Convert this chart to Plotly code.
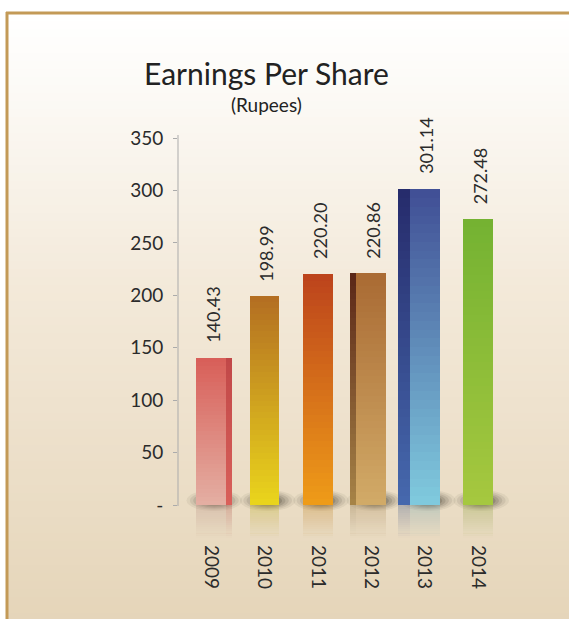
import plotly.graph_objects as go

# ---------------- data ----------------
years = ["2009", "2010", "2011", "2012", "2013", "2014"]
eps = [140.43, 198.99, 220.20, 220.86, 301.14, 272.48]
eps_labels = ["140.43", "198.99", "220.20", "220.86", "301.14", "272.48"]
y_tickvals = [0, 50, 100, 150, 200, 250, 300, 350]
y_ticktext = ["-", "50", "100", "150", "200", "250", "300", "350"]

# ---------------- style ----------------
W, H = 569, 619
PL, PR, PT = 178, 510, 138      # plot area in pixels
Y0PX = 505                      # pixel row of value 0
PB = 541                        # plot bottom (room for reflections)
KPX = (Y0PX - PT) / 350.0       # pixels per unit
YMIN = -(PB - Y0PX) / KPX
FONT = "Lato"
TXT = "#2b2b2b"

front_top = ["#D85E58", "#B36E22", "#BC431C", "#A96A33", "#404E95", "#74B232"]
front_bot = ["#E4AFA3", "#EAD51C", "#EF9C18", "#D2AB68", "#80CBDE", "#A6C83F"]
side_top = ["#C14848", None, None, "#5A2617", "#262B6B", None]
side_bot = ["#D9605A", None, None, "#A78447", "#4669AE", None]
side_off = [0.28, 0, 0, -0.39, -0.50, 0]
side_w = [0.11, 0, 0, 0.11, 0.22, 0]
FRONT_W = 0.56
N = 36


def hex2rgb(h):
    h = h.lstrip("#")
    return tuple(int(h[i:i + 2], 16) for i in (0, 2, 4))


def mix(c1, c2, t):
    a, b = hex2rgb(c1), hex2rgb(c2)
    return tuple(round(a[i] + (b[i] - a[i]) * t) for i in range(3))


def rgba(c, a):
    return "rgba(%d,%d,%d,%.3f)" % (c[0], c[1], c[2], a)


fig = go.Figure()


def add_face(tops, bots, offs, widths, reflect=False):
    nseg = N if not reflect else 16
    for k in range(nseg):
        t0, t1 = k / nseg, (k + 1) / nseg
        bases, heights, colors = [], [], []
        for i, v in enumerate(eps):
            if tops[i] is None:
                bases.append(None); heights.append(None); colors.append("rgba(0,0,0,0)")
                continue
            if not reflect:
                bases.append(v * t0)
                h = v * (t1 - t0) * (1.0 if k == nseg - 1 else 1.03)
                heights.append(h)
                colors.append(rgba(mix(bots[i], tops[i], (t0 + t1) / 2), 1))
            else:
                depth = 31.0  # reflection depth (style)
                bases.append(-depth * t0)
                heights.append(-depth * (t1 - t0) * 1.03)
                tint = mix(bots[i], "#8A7A68", 0.4)
                colors.append(rgba(tint, 0.40 * (1 - (t0 + t1) / 2)))
        fig.add_trace(go.Bar(
            x=years, y=heights, base=bases, offset=offs, width=widths,
            marker=dict(color=colors, line=dict(width=0)),
            showlegend=False, hoverinfo="skip",
        ))


# reflections
add_face(front_bot, front_bot, [-FRONT_W / 2] * 6, [FRONT_W] * 6, reflect=True)
add_face(side_bot, side_bot, side_off, side_w, reflect=True)
# faces
add_face(side_top, side_bot, side_off, side_w)
add_face(front_top, front_bot, [-FRONT_W / 2] * 6, [FRONT_W] * 6)

# ---------------- shapes: background, border, shadows, axis line ----------------
shapes = []
pw, ph = PR - PL, PB - PT


def px2paper_x(px):
    return (px - PL) / pw


def px2paper_y(py):
    return (PB - py) / ph


bg_stops = [(0.0, "#FFFFFF"), (0.12, "#FCFAF6"), (0.45, "#F3E9D9"), (1.0, "#E5D5B9")]


def bg_color(f):
    for j in range(len(bg_stops) - 1):
        f0, c0 = bg_stops[j]
        f1, c1 = bg_stops[j + 1]
        if f <= f1:
            return mix(c0, c1, (f - f0) / (f1 - f0))
    return hex2rgb(bg_stops[-1][1])


BG_TOP, BG_LEFT = 13, 7
band = 8
y = BG_TOP
while y < H:
    y2 = min(y + band + 1, H)
    f = (y - BG_TOP) / (H - BG_TOP)
    shapes.append(dict(type="rect", xref="paper", yref="paper", layer="below",
                       x0=px2paper_x(BG_LEFT), x1=px2paper_x(W + 2),
                       y0=px2paper_y(y), y1=px2paper_y(y2),
                       fillcolor=rgba(bg_color(f), 1), line=dict(width=0)))
    y += band

# gold border (top and left)
shapes.append(dict(type="line", xref="paper", yref="paper", layer="below",
                   x0=px2paper_x(BG_LEFT - 1), x1=px2paper_x(W + 2),
                   y0=px2paper_y(BG_TOP), y1=px2paper_y(BG_TOP),
                   line=dict(color="#C39A57", width=3)))
shapes.append(dict(type="line", xref="paper", yref="paper", layer="below",
                   x0=px2paper_x(BG_LEFT), x1=px2paper_x(BG_LEFT),
                   y0=px2paper_y(BG_TOP - 1), y1=px2paper_y(H + 2),
                   line=dict(color="#C39A57", width=3)))

# soft shadows at bar bases
for i in range(len(years)):
    for s, a in [(1.0, 0.06), (0.88, 0.08), (0.76, 0.10), (0.64, 0.13), (0.52, 0.16)]:
        shapes.append(dict(type="circle", xref="x", yref="paper", layer="below",
                           x0=i + 0.06 - 0.52 * s, x1=i + 0.06 + 0.52 * s,
                           y0=px2paper_y(501 + 10 * s), y1=px2paper_y(501 - 11 * s),
                           fillcolor="rgba(40,30,20,%.2f)" % a, line=dict(width=0)))

# y axis line (from 0 to top)
shapes.append(dict(type="line", xref="paper", yref="paper", layer="above",
                   x0=0, x1=0, y0=px2paper_y(Y0PX + 1), y1=px2paper_y(PT - 3),
                   line=dict(color="#ABABAB", width=1)))

# ---------------- annotations ----------------
annotations = []
for i, (v, lab) in enumerate(zip(eps, eps_labels)):
    annotations.append(dict(x=i, y=v, xref="x", yref="y", text=lab, textangle=-90,
                            showarrow=False, xanchor="center", yanchor="bottom",
                            yshift=13, xshift=2,
                            font=dict(family=FONT, size=18, color=TXT)))

annotations.append(dict(xref="paper", yref="paper", x=px2paper_x(266), y=px2paper_y(73),
                        text="Earnings Per Share", showarrow=False,
                        xanchor="center", yanchor="middle",
                        font=dict(family=FONT, size=30, color="#222222")))
annotations.append(dict(xref="paper", yref="paper", x=px2paper_x(266), y=px2paper_y(104),
                        text="(Rupees)", showarrow=False,
                        xanchor="center", yanchor="middle",
                        font=dict(family=FONT, size=19, color="#222222")))

fig.update_layout(
    width=W, height=H,
    margin=dict(l=PL, r=W - PR, t=PT, b=H - PB, pad=0),
    paper_bgcolor="#FFFFFF", plot_bgcolor="rgba(0,0,0,0)",
    barmode="overlay", bargap=0,
    showlegend=False,
    shapes=shapes, annotations=annotations,
    font=dict(family=FONT, color=TXT),
)
fig.update_xaxes(
    type="category", range=[-0.62, 5.6], showgrid=False, zeroline=False,
    showline=False, ticks="", tickangle=90, ticklabelstandoff=3,
    tickfont=dict(family=FONT, size=19, color=TXT),
)
fig.update_yaxes(
    range=[YMIN, 350], tickvals=y_tickvals, ticktext=y_ticktext,
    showgrid=False, zeroline=False, showline=False,
    ticks="outside", ticklen=4, tickcolor="#ABABAB", ticklabelstandoff=6,
    tickfont=dict(family=FONT, size=19, color=TXT),
)

fig.write_html("out.html", config={"displayModeBar": False},
               post_script="document.body.style.margin='0';")
